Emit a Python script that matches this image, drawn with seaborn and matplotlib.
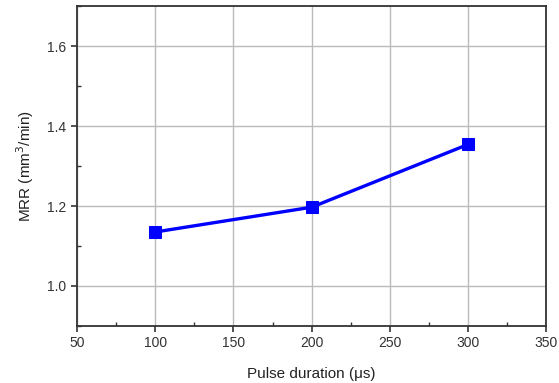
import numpy as np
import pandas as pd
import matplotlib
matplotlib.use("Agg")
import matplotlib.pyplot as plt
import seaborn as sns
from matplotlib.ticker import MultipleLocator

sns.set_style("white")
plt.rcParams['font.family'] = ['Liberation Sans', 'DejaVu Sans']

# Data
pulse_duration = [100, 200, 300]
mrr = [1.135, 1.197, 1.354]

df = pd.DataFrame({"Pulse duration": pulse_duration, "MRR": mrr})

fig = plt.figure(figsize=(5.59, 3.83), dpi=100)
ax = fig.add_axes([0.138, 0.149, 0.839, 0.835])

sns.lineplot(data=df, x="Pulse duration", y="MRR", ax=ax, color="#0000ff",
             linewidth=2.4, marker="s", markersize=8.5, markeredgecolor="#0000ff")

ax.set_xlim(50, 350)
ax.set_ylim(0.9, 1.7)
ax.xaxis.set_major_locator(MultipleLocator(50))
ax.xaxis.set_minor_locator(MultipleLocator(25))
ax.yaxis.set_major_locator(MultipleLocator(0.2))
ax.yaxis.set_minor_locator(MultipleLocator(0.1))
ax.yaxis.set_major_formatter(matplotlib.ticker.FormatStrFormatter('%.1f'))

ax.grid(True, which="major", color="#bbbbbb", linewidth=1.0)
for s in ax.spines.values():
    s.set_color("#333333")
    s.set_linewidth(1.3)

ax.tick_params(axis="both", which="major", direction="out", length=4, width=1.2,
               labelsize=10, colors="#333333", bottom=True, left=True)
ax.tick_params(axis="both", which="minor", direction="in", length=3, width=1.0,
               bottom=True, left=True, colors="#333333")
ax.tick_params(axis="y", pad=4)

ax.set_xlabel("Pulse duration (μs)", fontsize=11, color="#222222", labelpad=12)
ax.set_ylabel("MRR (mm$^3$/min)", fontsize=11, color="#222222", labelpad=8)

fig.savefig("out.png", dpi=100)
